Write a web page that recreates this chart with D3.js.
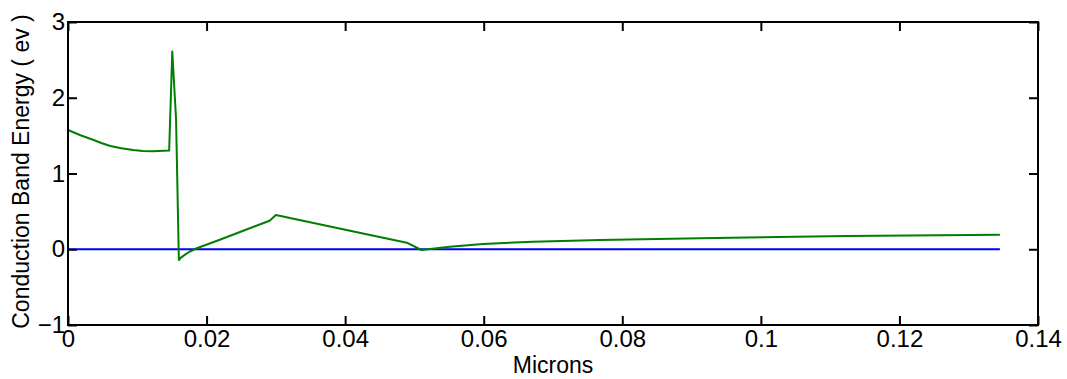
<!DOCTYPE html>
<html>
<head>
<meta charset="utf-8">
<script src="https://cdn.jsdelivr.net/npm/d3@7"></script>
<style>
  body { margin: 0; background: #fff; }
  text { font-family: Arial, "Liberation Sans", sans-serif; fill: #000; }
</style>
</head>
<body>
<div id="chart-container"></div>
<script>
// conduction band plot, matlab style box axes
const svgWidth = 1067;
const svgHeight = 379;
const margin = { top: 22, right: 29, bottom: 54, left: 68 };
const width = svgWidth - margin.left - margin.right;
const height = svgHeight - margin.top - margin.bottom;

// green curve: conduction band energy vs position
const bandX = [0, 0.0018, 0.0037, 0.0049, 0.0061, 0.0077, 0.0094, 0.0108, 0.0123, 0.0146, 0.01505, 0.0156, 0.0160,
    0.0163, 0.0166, 0.0170, 0.0176, 0.0185, 0.0219, 0.0291, 0.0300, 0.0436, 0.0489, 0.0510, 0.0551, 0.0599,
    0.0671, 0.0768, 0.0912, 0.1124, 0.1345];
const bandY = [1.574, 1.505, 1.442, 1.40, 1.363, 1.333, 1.31, 1.298, 1.295, 1.302, 2.61, 1.71, -0.142,
    -0.11, -0.09, -0.065, -0.03, 0.01, 0.125, 0.377, 0.452, 0.188, 0.087, -0.01, 0.034, 0.069,
    0.10, 0.122, 0.144, 0.175, 0.192];
// blue line: fermi level
const fermiX = [0, 0.1345];
const fermiY = [0, 0];

const xTicks = [0, 0.02, 0.04, 0.06, 0.08, 0.1, 0.12, 0.14];
const yTicks = [-1, 0, 1, 2, 3];

const svg = d3.select("#chart-container")
    .append("svg")
    .attr("width", svgWidth)
    .attr("height", svgHeight)
    .append("g")
    .attr("transform", `translate(${margin.left},${margin.top})`);

const x = d3.scaleLinear().domain([0, 0.14]).range([0, width]);
const y = d3.scaleLinear().domain([-1, 3]).range([height, 0]);

const line = d3.line().x(d => x(d[0])).y(d => y(d[1]));

svg.append("path")
    .datum(d3.zip(fermiX, fermiY))
    .attr("d", line)
    .attr("fill", "none")
    .attr("stroke", "#0000ff")
    .attr("stroke-width", 2);

svg.append("path")
    .datum(d3.zip(bandX, bandY))
    .attr("d", line)
    .attr("fill", "none")
    .attr("stroke", "#007f00")
    .attr("stroke-width", 2)
    .attr("stroke-linejoin", "round");

const tickLen = 9;
const fmt = d => d === 0.1 ? "0.1" : String(d);

// bottom + top
svg.append("g")
    .attr("transform", `translate(0, ${height})`)
    .call(d3.axisBottom(x).tickValues(xTicks).tickFormat(fmt).tickSizeInner(-tickLen).tickSizeOuter(0).tickPadding(5));
svg.append("g")
    .call(d3.axisTop(x).tickValues(xTicks).tickFormat("").tickSizeInner(-tickLen).tickSizeOuter(0));
// left + right
svg.append("g")
    .call(d3.axisLeft(y).tickValues(yTicks).tickFormat(d3.format("d")).tickSizeInner(-tickLen).tickSizeOuter(0).tickPadding(3));
svg.append("g")
    .attr("transform", `translate(${width}, 0)`)
    .call(d3.axisRight(y).tickValues(yTicks).tickFormat("").tickSizeInner(-tickLen).tickSizeOuter(0));

svg.selectAll(".domain").remove();
svg.selectAll(".tick line").attr("stroke", "#000").attr("stroke-width", 2);
svg.selectAll(".tick text").style("font-size", "24px").style("font-family", "Arial, 'Liberation Sans', sans-serif");

svg.append("rect")
    .attr("x", 0).attr("y", 0)
    .attr("width", width).attr("height", height)
    .attr("fill", "none")
    .attr("stroke", "#000")
    .attr("stroke-width", 2);

svg.append("text")
    .text("Microns")
    .attr("x", width / 2)
    .attr("y", height + 48)
    .attr("text-anchor", "middle")
    .style("font-size", "23px");

svg.append("text")
    .text("Conduction Band Energy ( ev )")
    .attr("transform", `translate(${-39}, ${height / 2 - 2}) rotate(-90)`)
    .attr("text-anchor", "middle")
    .style("font-size", "23px");
</script>
</body>
</html>
